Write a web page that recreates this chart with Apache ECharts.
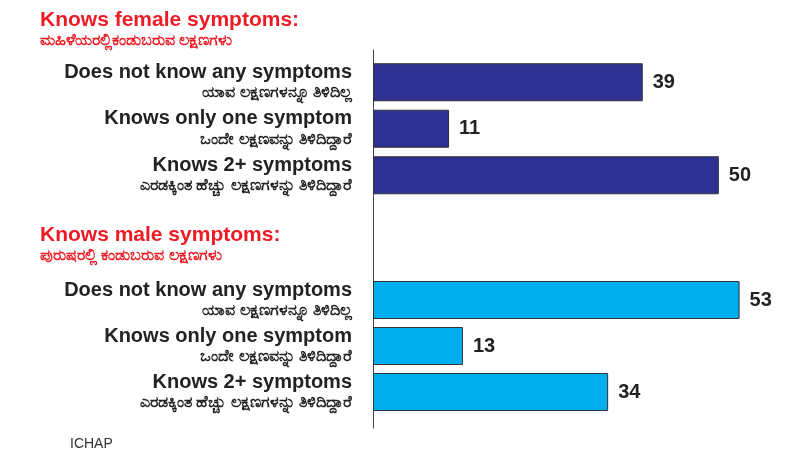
<!DOCTYPE html>
<html>
<head>
<meta charset="utf-8">
<script src="https://cdn.jsdelivr.net/npm/echarts@6/dist/echarts.min.js"></script>
<style>html,body{margin:0;padding:0;background:#fff}#c{width:799px;height:457px}</style>
</head>
<body>
<div id="c"></div>
<script>
var femaleHeader = 'Knows female symptoms:';
var femaleHeaderKn = 'ಮಹಿಳೆಯರಲ್ಲಿಕಂಡುಬರುವ ಲಕ್ಷಣಗಳು';
var maleHeader = 'Knows male symptoms:';
var maleHeaderKn = 'ಪುರುಷರಲ್ಲಿ ಕಂಡುಬರುವ ಲಕ್ಷಣಗಳು';
var categoriesEn = ['Does not know any symptoms', 'Knows only one symptom', 'Knows 2+ symptoms'];
var categoriesKn = ['ಯಾವ ಲಕ್ಷಣಗಳನ್ನೂ ತಿಳಿದಿಲ್ಲ', 'ಒಂದೇ ಲಕ್ಷಣವನ್ನು ತಿಳಿದಿದ್ದಾರೆ', 'ಎರಡಕ್ಕಿಂತ ಹೆಚ್ಚು ಲಕ್ಷಣಗಳನ್ನು ತಿಳಿದಿದ್ದಾರೆ'];
var femaleValues = [39, 11, 50];
var maleValues = [53, 13, 34];
var sourceText = 'ICHAP';

var FONT = '"Liberation Sans", Arial, "Noto Sans", sans-serif';
var chart = echarts.init(document.getElementById('c'));

function catAxis(gridIndex) {
  return {
    type: 'category', gridIndex: gridIndex, inverse: true,
    data: categoriesEn.map(function (e, i) { return e + '|' + i; }),
    axisLine: { show: false }, axisTick: { show: false },
    axisLabel: {
      margin: 21, align: 'right',
      formatter: function (v) {
        var i = +v.split('|')[1];
        return '{en|' + categoriesEn[i] + '}\n{kn|' + categoriesKn[i] + '}';
      },
      rich: {
        en: { fontFamily: FONT, fontWeight: 'bold', fontSize: 20, color: '#222', lineHeight: 21, align: 'right' },
        kn: { fontFamily: FONT, fontWeight: 'bold', fontSize: 16, color: '#222', lineHeight: 20, align: 'right' }
      }
    }
  };
}
function valAxis(gridIndex) {
  return { type: 'value', gridIndex: gridIndex, min: 0, max: 60, show: false };
}
function barSeries(idx, data, color) {
  return {
    type: 'bar', xAxisIndex: idx, yAxisIndex: idx, data: data, barWidth: 38,
    itemStyle: { color: color, borderColor: '#333', borderWidth: 1 },
    label: { show: true, position: 'right', distance: 10, fontFamily: FONT, fontWeight: 'bold', fontSize: 20, color: '#222' },
    silent: true, animation: false
  };
}

chart.setOption({
  animation: false,
  title: [
    { text: femaleHeader, subtext: femaleHeaderKn, left: 35, top: 5, itemGap: 2,
      textStyle: { fontFamily: FONT, fontWeight: 'bold', fontSize: 21, color: '#ed1c24' },
      subtextStyle: { fontFamily: FONT, fontWeight: 'bold', fontSize: 16, color: '#ed1c24' } },
    { text: maleHeader, subtext: maleHeaderKn, left: 35, top: 220, itemGap: 2,
      textStyle: { fontFamily: FONT, fontWeight: 'bold', fontSize: 21, color: '#ed1c24' },
      subtextStyle: { fontFamily: FONT, fontWeight: 'bold', fontSize: 16, color: '#ed1c24' } },
    { text: sourceText, left: 65, top: 432,
      textStyle: { fontFamily: FONT, fontWeight: 'normal', fontSize: 14, color: '#333' } }
  ],
  grid: [
    { left: 373, right: 11, top: 59, height: 139.5 },
    { left: 373, right: 11, top: 277, height: 138 },
    { left: 373, right: 11, top: 50, bottom: 29 }
  ],
  xAxis: [valAxis(0), valAxis(1), { type: 'value', gridIndex: 2, show: false }],
  yAxis: [catAxis(0), catAxis(1),
    { type: 'value', gridIndex: 2, axisLine: { show: true, lineStyle: { color: '#444', width: 1 } },
      axisTick: { show: false }, axisLabel: { show: false }, splitLine: { show: false } }],
  series: [
    barSeries(0, femaleValues, '#2e3192'),
    barSeries(1, maleValues, '#00aeef')
  ]
});
</script>
</body>
</html>
